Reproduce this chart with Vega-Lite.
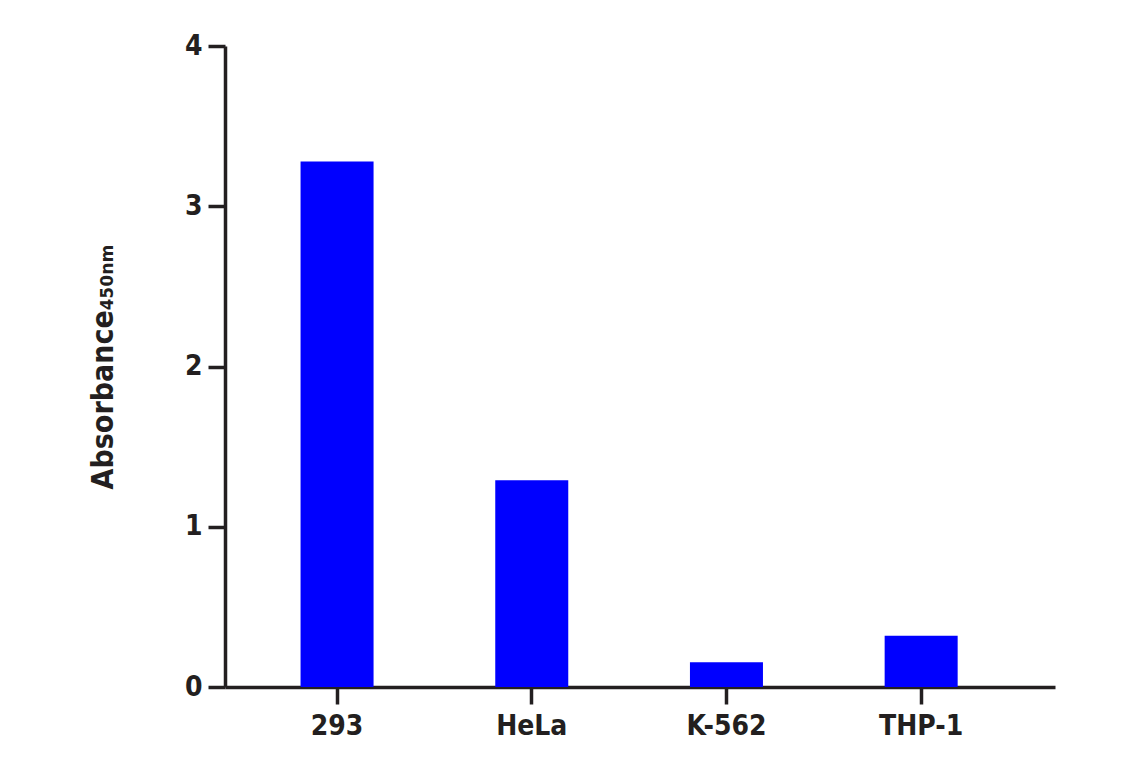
{
  "$schema": "https://vega.github.io/schema/vega-lite/v6.json",
  "autosize": "none",
  "padding": {"left": 225, "top": 46, "right": 86, "bottom": 81},
  "width": 830,
  "height": 641,
  "background": "white",
  "data": {"values": [
    {"cell": "293", "absorbance": 3.28},
    {"cell": "HeLa", "absorbance": 1.29},
    {"cell": "K-562", "absorbance": 0.155},
    {"cell": "THP-1", "absorbance": 0.32}
  ]},
  "config": {
    "view": {"stroke": null},
    "font": "DejaVu Sans Condensed",
    "axis": {
      "grid": false,
      "domainColor": "#231f20",
      "domainWidth": 3.5,
      "tickColor": "#231f20",
      "tickWidth": 3.5,
      "tickSize": 17,
      "labelFont": "DejaVu Sans Condensed",
      "labelFontWeight": "bold",
      "labelFontSize": 28,
      "labelColor": "#231f20",
      "titleFont": "DejaVu Sans Condensed",
      "titleFontWeight": "bold",
      "titleFontSize": 30,
      "titleColor": "#231f20"
    }
  },
  "mark": {"type": "bar", "color": "#0000ff"},
  "encoding": {
    "x": {
      "field": "cell",
      "type": "nominal",
      "sort": ["293", "HeLa", "K-562", "THP-1"],
      "scale": {"paddingInner": 0.625, "paddingOuter": 0.444, "align": 0.437},
      "axis": {"title": null, "labelAngle": 0, "labelPadding": 8, "domainWidth": 3.5, "tickWidth": 3.5}
    },
    "y": {
      "field": "absorbance",
      "type": "quantitative",
      "scale": {"domain": [0, 4], "nice": false},
      "axis": {"title": "Absorbance₄₅₀ₙₘ", "values": [0, 1, 2, 3, 4], "labelPadding": 6, "titlePadding": 66, "domainWidth": 3.5, "tickWidth": 3.5}
    }
  }
}
